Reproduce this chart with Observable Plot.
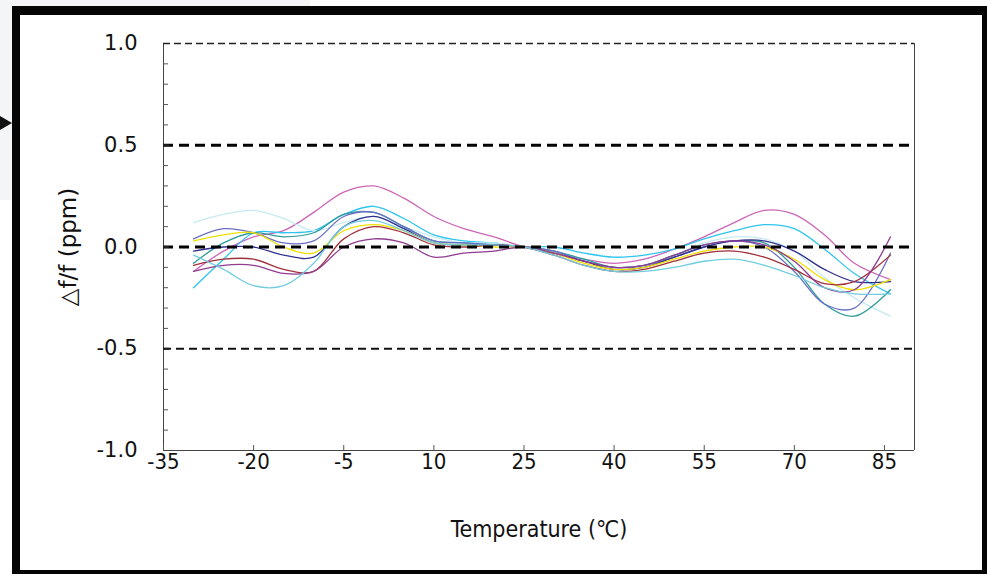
<!DOCTYPE html>
<html><head><meta charset="utf-8">
<script src="https://cdn.jsdelivr.net/npm/d3@7"></script>
<script src="https://cdn.jsdelivr.net/npm/@observablehq/plot@0.6"></script>
<style>
html,body{margin:0;padding:0;background:#fff;width:987px;height:574px;overflow:hidden;}
#bg{position:absolute;left:0;top:0;width:310px;height:200px;background:#f4f5f6;}
#arrow{position:absolute;left:0;top:116px;width:0;height:0;border-top:7px solid transparent;border-bottom:7px solid transparent;border-left:12px solid #111;}
#frame{position:absolute;left:12px;top:6px;width:978px;height:572px;box-sizing:border-box;border:8px solid #050505;border-top-width:9px;background:#fff;}
#chart{position:absolute;left:0;top:0;}
#chart svg{background:transparent !important;overflow:visible;}
</style></head><body>
<div id="bg"></div><div id="arrow"></div><div id="frame"></div><div id="chart"></div>
<script>
// ---- data ----
const temps = [-30,-25,-20,-15,-10,-5,0,5,10,15,20,25,30,35,40,45,50,55,60,65,70,75,80,86];
const magenta   = [-0.12,-0.02,0.05,0.08,0.17,0.27,0.30,0.24,0.15,0.09,0.05,0.00,-0.03,-0.06,-0.08,-0.06,-0.01,0.05,0.12,0.18,0.16,0.06,-0.08,-0.16];
const skyblue   = [-0.20,-0.06,0.07,0.07,0.08,0.16,0.20,0.14,0.06,0.03,0.02,0.00,0.00,-0.03,-0.05,-0.04,-0.01,0.04,0.08,0.11,0.09,-0.01,-0.13,-0.23];
const palecyan  = [0.12,0.16,0.18,0.14,0.08,0.12,0.15,0.10,0.05,0.02,0.02,0.00,-0.02,-0.06,-0.10,-0.09,-0.04,0.02,0.05,0.04,-0.02,-0.15,-0.25,-0.34];
const teal      = [-0.08,0.02,0.07,0.05,0.07,0.16,0.17,0.10,0.03,0.02,0.01,0.00,-0.02,-0.06,-0.10,-0.09,-0.04,0.01,0.03,0.02,-0.10,-0.28,-0.34,-0.21];
const slate     = [0.04,0.09,0.07,0.02,0.03,0.15,0.17,0.10,0.03,0.02,0.01,0.00,-0.02,-0.07,-0.10,-0.09,-0.05,0.00,0.03,0.00,-0.12,-0.28,-0.30,-0.03];
const navy      = [-0.02,0.00,0.00,-0.04,-0.05,0.10,0.15,0.09,0.02,0.01,0.01,0.00,-0.03,-0.07,-0.11,-0.10,-0.05,0.00,0.03,0.03,-0.02,-0.11,-0.17,-0.17];
const yellow    = [0.03,0.06,0.07,0.00,-0.03,0.08,0.11,0.08,0.02,0.01,0.00,0.00,-0.03,-0.08,-0.11,-0.10,-0.06,-0.02,0.00,0.00,-0.06,-0.16,-0.21,-0.16];
const darkred   = [-0.09,-0.06,-0.06,-0.11,-0.12,0.04,0.10,0.07,0.01,0.00,0.01,0.00,-0.04,-0.09,-0.12,-0.11,-0.07,-0.03,-0.02,-0.05,-0.11,-0.18,-0.17,-0.04];
const purple    = [-0.12,-0.09,-0.09,-0.13,-0.12,0.00,0.04,0.02,-0.05,-0.03,-0.02,0.00,-0.03,-0.07,-0.10,-0.09,-0.04,0.01,0.03,0.01,-0.07,-0.20,-0.21,0.05];
const lightblue = [-0.04,-0.11,-0.19,-0.19,-0.08,0.10,0.13,0.08,0.02,0.01,0.01,0.00,-0.04,-0.09,-0.12,-0.12,-0.10,-0.07,-0.06,-0.09,-0.14,-0.20,-0.23,-0.23];
const seriesNames  = ["magenta","skyblue","palecyan","teal","slate","navy","yellow","darkred","purple","lightblue"];
const seriesValues = [magenta,skyblue,palecyan,teal,slate,navy,yellow,darkred,purple,lightblue];
const seriesColors = ["#cc66b8","#2ec4ee","#c6eaf2","#2f9c9c","#6a6fc6","#303090","#f0e000","#a0303c","#8f3b90","#70cde0"];
const xTicks = [-35,-20,-5,10,25,40,55,70,85];
const yTicks = [-1,-0.5,0,0.5,1];
const yMinor = [-0.9,-0.8,-0.7,-0.6,-0.4,-0.3,-0.2,-0.1,0.1,0.2,0.3,0.4,0.6,0.7,0.8,0.9];
const yMajorTicks = [-0.5,0,0.5];
const dashedBold = [0.5,0];
const dashedThinTop = [1];
const dashedThinLow = [-0.5];
const xDomain = [-35,90];
const yDomain = [-1,1];
const xLabel = "Temperature (℃)";
const yLabel = "△f/f (ppm)";

const rows = seriesNames.flatMap((n,i)=>temps.map((t,j)=>({T:t, v:seriesValues[i][j], s:n})));

// ---- layout ----
const W=987,H=574,mL=163,mT=43,mR=73,mB=124;
const plotW=W-mL-mR, plotH=H-mT-mB;
const fontY='"DejaVu Sans", Verdana, sans-serif';
const fontX='"DejaVu Sans Condensed", "DejaVu Sans", sans-serif';

const chart = Plot.plot({
  width:W, height:H, marginLeft:mL, marginRight:mR, marginTop:mT, marginBottom:mB,
  style:{fontFamily:fontY, fontSize:"20px", background:"transparent", overflow:"visible"},
  x:{domain:xDomain},
  y:{domain:yDomain},
  color:{domain:seriesNames, range:seriesColors},
  marks:[
    Plot.line(rows,{x:"T",y:"v",z:"s",stroke:"s",strokeWidth:1.3,curve:"catmull-rom"}),
    Plot.ruleX(xDomain,{stroke:"#444",strokeWidth:1}),
    Plot.ruleY([yDomain[0]],{stroke:"#444",strokeWidth:1}),
    Plot.ruleY(dashedThinTop,{stroke:"#222",strokeWidth:1.6,strokeDasharray:"7,4"}),
    Plot.ruleY(dashedThinLow,{stroke:"#111",strokeWidth:2,strokeDasharray:"8,5"}),
    Plot.ruleY(dashedBold,{stroke:"#000",strokeWidth:3.2,strokeDasharray:"10,6"}),
    Plot.tickY(yMinor,{stroke:"#555",strokeWidth:1,insetRight:plotW-5}),
    Plot.tickY(yMajorTicks,{stroke:"#222",strokeWidth:2,insetRight:plotW-6}),
    Plot.tickX(xTicks,{stroke:"#555",strokeWidth:1,insetTop:plotH-5}),
    Plot.axisY(yTicks,{tickSize:0,tickPadding:26,label:null,tickFormat:d=>d.toFixed(1),fontSize:21,fontFamily:fontY,fill:"#111"}),
    Plot.axisX(xTicks,{tickSize:0,tickPadding:3,label:null,tickFormat:d=>String(d),fontSize:22,fontFamily:fontX,fill:"#111"}),
    Plot.text([xLabel],{frameAnchor:"bottom",lineAnchor:"middle",textAnchor:"middle",dy:79,text:d=>d,fontSize:23,fontFamily:fontX,fill:"#111"}),
    Plot.text([yLabel],{frameAnchor:"left",textAnchor:"middle",lineAnchor:"middle",dx:-95,rotate:-90,text:d=>d,fontSize:23,fontFamily:fontY,fill:"#111"})
  ]
});
document.getElementById("chart").appendChild(chart);
</script>
</body></html>
